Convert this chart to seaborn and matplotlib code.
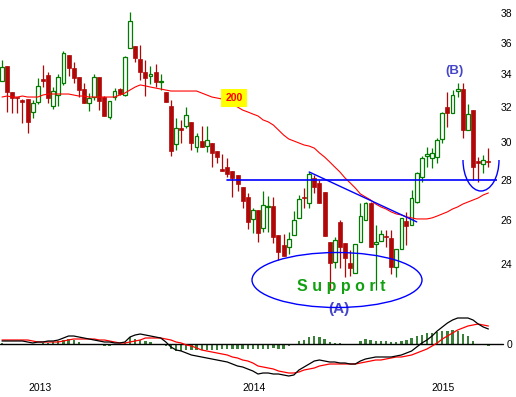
import numpy as np
import pandas as pd
import matplotlib
matplotlib.use("Agg")
import matplotlib.pyplot as plt
import seaborn as sns
from matplotlib.patches import Ellipse, Arc

# ---------------- data ----------------
opens = [33.55, 34.48, 32.88, 32.58, 32.40, 32.46, 31.70, 32.28, 33.67, 33.92,
         32.05, 32.70, 33.43, 35.19, 34.36, 33.80, 33.06, 32.23, 32.58, 33.80,
         32.58, 31.41, 32.58, 33.06, 32.70, 35.64, 35.77, 34.93, 34.11, 33.86,
         34.11, 33.49, 32.88, 32.05, 29.90, 30.79, 30.90, 31.13, 29.73, 30.06,
         29.78, 29.95, 29.51, 28.56, 28.66, 28.45, 28.24, 27.64, 27.13, 26.06,
         26.49, 25.63, 26.66, 26.69, 25.31, 24.85, 24.76, 25.31, 26.11, 27.13,
         26.83, 28.09, 27.84, 27.38, 24.98, 24.09, 25.92, 24.94, 24.04, 23.61,
         24.98, 26.01, 26.83, 24.89, 25.03, 25.26, 25.17, 23.87, 24.67, 25.96,
         25.77, 26.88, 28.14, 29.25, 29.14, 29.19, 30.17, 31.99, 31.64, 32.94,
         33.06, 30.67, 31.81, 28.98, 28.82, 28.98]
highs = [34.87, 34.48, 32.88, 32.58, 32.46, 32.46, 32.40, 33.74, 34.55, 34.11,
         33.18, 33.98, 35.44, 35.19, 34.74, 33.80, 33.43, 32.82, 33.98, 33.80,
         32.64, 32.34, 33.12, 33.12, 35.12, 38.07, 35.77, 35.84, 34.87, 34.48,
         34.61, 33.98, 32.88, 32.40, 31.35, 31.24, 31.99, 31.13, 30.50, 30.90,
         30.90, 29.95, 29.51, 29.35, 29.14, 28.45, 28.24, 27.64, 27.33, 26.59,
         26.49, 27.43, 27.18, 27.13, 25.31, 25.35, 25.45, 26.44, 27.23, 27.58,
         28.40, 28.24, 27.99, 27.38, 24.98, 25.21, 26.01, 24.94, 24.62, 24.89,
         26.83, 26.88, 26.88, 25.77, 25.54, 25.54, 25.54, 24.67, 26.11, 26.40,
         27.48, 28.40, 29.25, 29.73, 29.67, 30.23, 31.70, 32.88, 33.00, 33.43,
         33.43, 32.17, 31.81, 29.19, 29.30, 29.67]
lows = [33.55, 31.70, 31.64, 31.64, 31.07, 30.50, 31.35, 32.17, 33.18, 32.23,
        31.87, 32.05, 33.31, 33.86, 33.43, 32.58, 32.23, 31.76, 32.40, 31.81,
        31.47, 31.30, 32.40, 32.70, 32.64, 35.64, 34.74, 33.61, 32.64, 33.37,
        33.18, 33.00, 32.28, 29.25, 29.57, 29.95, 30.79, 29.57, 29.46, 29.73,
        29.46, 28.66, 28.87, 28.45, 28.14, 27.13, 27.43, 26.59, 25.58, 25.40,
        24.98, 25.45, 25.45, 24.94, 24.17, 24.35, 24.44, 25.31, 26.11, 26.59,
        26.59, 27.33, 26.83, 25.26, 22.88, 23.82, 23.82, 23.43, 23.48, 23.61,
        24.98, 26.01, 24.76, 22.88, 25.03, 24.76, 23.56, 23.43, 24.67, 24.85,
        25.77, 26.83, 27.88, 28.66, 28.61, 28.87, 29.95, 30.84, 31.64, 32.58,
        30.23, 30.67, 27.99, 27.88, 28.35, 28.66]
closes = [34.42, 32.88, 32.52, 32.52, 32.28, 31.13, 32.23, 33.25, 33.55, 32.52,
          32.94, 33.80, 35.32, 34.36, 33.74, 33.00, 32.23, 32.52, 33.80, 32.34,
          31.47, 32.34, 32.94, 32.76, 35.06, 37.45, 34.99, 34.11, 33.74, 33.98,
          33.49, 33.55, 32.28, 29.51, 30.79, 30.67, 31.52, 29.95, 30.34, 29.73,
          30.11, 29.41, 29.19, 28.45, 28.30, 28.09, 27.79, 26.93, 25.92, 26.49,
          25.40, 26.73, 26.69, 25.21, 24.53, 24.35, 25.12, 26.01, 27.03, 27.08,
          28.30, 27.64, 26.83, 25.26, 24.04, 25.07, 24.76, 24.26, 23.82, 24.89,
          26.20, 26.83, 24.76, 24.98, 25.35, 25.21, 23.87, 24.67, 26.11, 25.73,
          27.08, 28.35, 29.14, 29.35, 29.41, 30.11, 31.64, 31.64, 32.70, 33.06,
          30.67, 31.58, 28.66, 28.87, 29.03, 28.93]
ma200 = [32.58, 32.64, 32.58, 32.58, 32.64, 32.58, 32.58, 32.58, 32.70, 32.76,
         32.76, 32.76, 32.76, 32.76, 32.70, 32.64, 32.64, 32.58, 32.58, 32.58,
         32.58, 32.58, 32.58, 32.70, 32.82, 33.00, 33.18, 33.31, 33.25, 33.18,
         33.12, 33.06, 33.00, 32.94, 32.94, 32.94, 32.94, 32.94, 32.94, 32.82,
         32.70, 32.58, 32.52, 32.46, 32.34, 32.17, 31.99, 31.81, 31.70, 31.58,
         31.47, 31.24, 31.13, 30.95, 30.67, 30.39, 30.17, 30.06, 29.95, 29.84,
         29.78, 29.67, 29.41, 29.19, 28.93, 28.66, 28.40, 28.09, 27.84, 27.58,
         27.28, 27.13, 26.98, 26.78, 26.64, 26.54, 26.40, 26.30, 26.25, 26.16,
         26.11, 26.06, 26.06, 26.06, 26.11, 26.20, 26.30, 26.40, 26.54, 26.64,
         26.78, 26.88, 26.98, 27.08, 27.23, 27.33]
macd = [0.15, 0.15, 0.15, 0.15, 0.15, 0.10, 0.05, 0.10, 0.10, 0.15,
        0.15, 0.20, 0.30, 0.40, 0.40, 0.35, 0.30, 0.25, 0.20, 0.15,
        0.10, 0.10, 0.05, 0.05, 0.10, 0.35, 0.45, 0.50, 0.45, 0.40,
        0.35, 0.30, 0.10, -0.15, -0.30, -0.35, -0.45, -0.55, -0.60, -0.65,
        -0.70, -0.75, -0.80, -0.85, -0.90, -1.00, -1.10, -1.15, -1.25, -1.35,
        -1.50, -1.45, -1.45, -1.50, -1.50, -1.55, -1.60, -1.55, -1.30, -1.15,
        -1.00, -0.85, -0.80, -0.85, -0.90, -0.90, -0.95, -0.95, -1.00, -1.00,
        -0.85, -0.75, -0.70, -0.65, -0.65, -0.65, -0.65, -0.60, -0.55, -0.45,
        -0.35, -0.15, 0.05, 0.20, 0.40, 0.65, 0.85, 1.05, 1.20, 1.30,
        1.30, 1.30, 1.20, 1.00, 0.85, 0.75]
signal = [0.20, 0.20, 0.20, 0.20, 0.20, 0.20, 0.15, 0.10, 0.10, 0.10,
          0.10, 0.10, 0.15, 0.20, 0.25, 0.25, 0.25, 0.25, 0.25, 0.20,
          0.20, 0.15, 0.10, 0.05, 0.05, 0.10, 0.15, 0.20, 0.30, 0.30,
          0.30, 0.30, 0.25, 0.20, 0.10, 0.05, -0.05, -0.10, -0.20, -0.30,
          -0.35, -0.40, -0.45, -0.50, -0.55, -0.65, -0.70, -0.80, -0.85, -0.95,
          -1.10, -1.15, -1.20, -1.25, -1.35, -1.40, -1.45, -1.45, -1.40, -1.30,
          -1.25, -1.20, -1.10, -1.05, -1.00, -1.00, -1.00, -1.00, -1.00, -1.00,
          -0.95, -0.90, -0.85, -0.80, -0.80, -0.75, -0.70, -0.65, -0.65, -0.60,
          -0.55, -0.45, -0.35, -0.25, -0.10, 0.05, 0.25, 0.40, 0.55, 0.70,
          0.80, 0.90, 0.95, 1.00, 0.95, 0.90]
hist = [0.05, 0.0, 0.0, 0.0, 0.0, -0.05, -0.05, 0.0, 0.05, 0.05,
        0.10, 0.15, 0.20, 0.25, 0.20, 0.10, 0.0, 0.0, 0.0, -0.05,
        -0.10, -0.10, -0.05, -0.05, 0.05, 0.35, 0.25, 0.20, 0.15, 0.10,
        0.0, 0.0, -0.10, -0.25, -0.35, -0.35, -0.30, -0.30, -0.30, -0.30,
        -0.30, -0.30, -0.30, -0.25, -0.25, -0.25, -0.25, -0.25, -0.25, -0.25,
        -0.25, -0.25, -0.25, -0.20, -0.25, -0.25, -0.10, 0.0, 0.15, 0.20,
        0.35, 0.40, 0.35, 0.25, 0.10, 0.05, 0.05, 0.0, 0.0, 0.0,
        0.15, 0.25, 0.20, 0.15, 0.15, 0.15, 0.10, 0.10, 0.15, 0.20,
        0.30, 0.40, 0.45, 0.55, 0.55, 0.60, 0.65, 0.65, 0.70, 0.65,
        0.50, 0.40, 0.15, 0.0, -0.05, -0.10]

price_ticks = [24, 26, 28, 30, 32, 34, 36, 38]
year_labels = ["2013", "2014", "2015"]
year_pos = [7.4, 49.3, 86.1]
support_level = 28.0
trend_start = (60, 28.40)
trend_end = (81, 25.92)
ma_label = "200"
ma_label_at = (45.3, 32.52)

# ---------------- styling ----------------
sns.set_theme(style="white")
plt.rcParams["font.family"] = ["Liberation Sans", "DejaVu Sans"]

W, H = 516, 397
fig = plt.figure(figsize=(W / 100, H / 100), dpi=100)
fig.patch.set_facecolor("white")

AX_RIGHT = 497
PRICE_BOTTOM = 300
MACD_TOP, MACD_BOTTOM = 300, 380

n = len(opens)
idx = np.arange(n)
xmin = -2 / 5.12
xmax = (AX_RIGHT - 2) / 5.12

# price axes
ax = fig.add_axes([0, 1 - PRICE_BOTTOM / H, AX_RIGHT / W, PRICE_BOTTOM / H])
ax.set_facecolor("none")
ax.set_yscale("log")
ax.set_xlim(xmin, xmax)
ax.set_ylim(38 * np.exp(-(PRICE_BOTTOM - 13) / 546), 38 * np.exp(13 / 546))

o = np.array(opens); c = np.array(closes); hi = np.array(highs); lo = np.array(lows)
up = c >= o
GREEN = "#007c00"
RED = "#b00808"
wick_cols = [GREEN if u else RED for u in up]
ax.vlines(idx, lo, hi, colors=wick_cols, linewidth=0.9, zorder=2)
bot = np.minimum(o, c)
ht = np.maximum(np.abs(c - o), 0.03)
ax.bar(idx[up], ht[up], bottom=bot[up], width=0.72, facecolor="white",
       edgecolor=GREEN, linewidth=0.9, zorder=3)
ax.bar(idx[~up], ht[~up], bottom=bot[~up], width=0.78, facecolor=RED,
       edgecolor=RED, linewidth=0.5, zorder=3)

sns.lineplot(x=idx, y=ma200, ax=ax, color="#ff0000", linewidth=0.8, zorder=4)

# support line and trend line
ax.plot([44, xmax], [support_level, support_level], color="#0000ff", lw=1.2, zorder=5)
ax.plot([trend_start[0], trend_end[0]], [trend_start[1], trend_end[1]],
        color="#0000ff", lw=1.0, zorder=5)

ax.text(ma_label_at[0], ma_label_at[1], ma_label, color="#ff0000", fontsize=7.5,
        fontweight="bold", ha="center", va="center", zorder=6,
        bbox=dict(boxstyle="square,pad=0.4", facecolor="#ffff00", edgecolor="none"))

ax.set_yticks(price_ticks, labels=[str(t) for t in price_ticks])
ax.minorticks_off()
ax.yaxis.tick_right()
ax.tick_params(axis="y", length=0, pad=10.8, labelsize=7.5, colors="black")
for lb in ax.get_yticklabels():
    lb.set_horizontalalignment("right")
ax.set_xticks([])
ax.set_xlabel(""); ax.set_ylabel("")
for s in ax.spines.values():
    s.set_visible(False)

# MACD axes
ax2 = fig.add_axes([0, 1 - MACD_BOTTOM / H, AX_RIGHT / W, (MACD_BOTTOM - MACD_TOP) / H])
ax2.set_facecolor("none")
ax2.set_xlim(xmin, xmax)
ax2.set_ylim((344 - MACD_BOTTOM) / 20, (344 - MACD_TOP) / 20)
ax2.bar(idx, hist, width=0.45, color="#3a7f3a", linewidth=0, antialiased=False, zorder=2)
ax2.plot([xmin, (503 - 2) / 5.12], [0, 0], color="black", lw=1.0, zorder=3, clip_on=False)
sns.lineplot(x=idx, y=signal, ax=ax2, color="#ff0000", linewidth=0.9, zorder=4)
sns.lineplot(x=idx, y=macd, ax=ax2, color="black", linewidth=0.9, zorder=5)
ax2.set_yticks([0], labels=["0"])
ax2.yaxis.tick_right()
ax2.tick_params(axis="y", length=0, pad=10.8, labelsize=7.5, colors="black")
for lb in ax2.get_yticklabels():
    lb.set_horizontalalignment("right")
ax2.set_xticks(year_pos, labels=year_labels)
ax2.tick_params(axis="x", length=0, pad=2, labelsize=7.5, colors="black")
ax2.set_xlabel(""); ax2.set_ylabel("")
for s in ax2.spines.values():
    s.set_visible(False)

# annotations (figure pixel positions)
def fx(px):
    return px / W

def fy(py):
    return 1 - py / H

fig.patches.append(Ellipse((fx(337), fy(280)), 170 / W, 55 / H, transform=fig.transFigure,
                           fill=False, edgecolor="#0000ff", lw=1.0, zorder=10))
fig.patches.append(Arc((fx(481), fy(160)), 36 / W, 62 / H, theta1=180, theta2=360,
                       transform=fig.transFigure, edgecolor="#0000ff", lw=1.0, zorder=10))
fig.text(fx(341), fy(287), "S u p p o r t", color="#10a010", fontsize=11.5,
         fontweight="bold", ha="center", va="center")
fig.text(fx(339), fy(309), "(A)", color="#4646c8", fontsize=11,
         fontweight="bold", ha="center", va="center")
fig.text(fx(455), fy(71), "(B)", color="#4646c8", fontsize=9.5,
         fontweight="bold", ha="center", va="center")

fig.savefig("out.png", dpi=100, facecolor="white")
